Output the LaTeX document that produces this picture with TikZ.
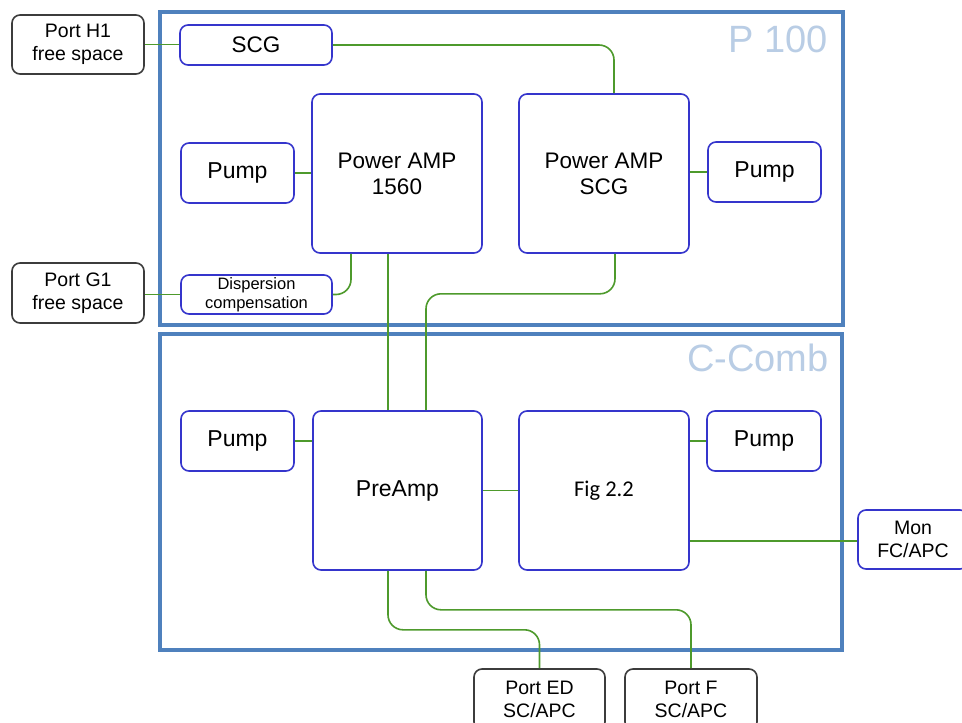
\documentclass[tikz,border=0pt]{standalone}
\usepackage{fontspec}
\setmainfont{Liberation Sans}
\newfontfamily\calibri{Carlito}
\definecolor{frameblue}{HTML}{4F81BD}
\definecolor{labelblue}{HTML}{B9CDE5}
\definecolor{boxblue}{HTML}{3535CC}
\definecolor{wire}{HTML}{4E9A2C}
\definecolor{portgray}{HTML}{3C3C3C}
\tikzset{
  frame/.style={draw=frameblue, line width=4pt},
  blk/.style={draw=boxblue, line width=1.6pt, rounded corners=8pt, fill=white, inner sep=0pt, align=center},
  portbox/.style={draw=portgray, line width=1.6pt, rounded corners=8pt, fill=white, inner sep=0pt, align=center},
  conn/.style={draw=wire, line width=1.6pt, rounded corners=15pt},
  biglabel/.style={text=labelblue, inner sep=0pt, font=\fontsize{38}{40}\selectfont}
}
\begin{document}
\begin{tikzpicture}[x=1pt,y=-1pt]
\clip (0,0) rectangle (962,723);
\fill[white] (0,0) rectangle (962,723);
% frames
\draw[frame] (160,12) rectangle (843,325);
\draw[frame] (160,334) rectangle (842,650);
\node[biglabel, anchor=base east] (lp) at (828,52) {P 100};
\node[biglabel, anchor=base east] (lc) at (829,371) {C-Comb};
% nodes
\node[portbox, minimum width=132pt, minimum height=59pt, font=\fontsize{19.5}{23}\selectfont] (porth1) at (78,44.5) {Port H1\\free space};
\node[blk, minimum width=152pt, minimum height=40pt, font=\fontsize{22.5}{26}\selectfont] (scg) at (256,45) {SCG};
\node[blk, minimum width=113pt, minimum height=60pt, font=\fontsize{23}{26}\selectfont] (pump1) at (237.5,173) {Pump};
\node[blk, minimum width=170pt, minimum height=159pt, font=\fontsize{22.5}{26}\selectfont] (pa1560) at (397,173.5) {Power AMP\\1560};
\node[blk, minimum width=151pt, minimum height=39pt, font=\fontsize{16.5}{18.5}\selectfont] (disp) at (256.5,294.5) {Dispersion\\compensation};
\node[portbox, minimum width=132pt, minimum height=60pt, font=\fontsize{19.5}{23}\selectfont] (portg1) at (78,293) {Port G1\\free space};
\node[blk, minimum width=170pt, minimum height=159pt, font=\fontsize{22.5}{26}\selectfont] (pascg) at (604,173.5) {Power AMP\\SCG};
\node[blk, minimum width=113pt, minimum height=60pt, font=\fontsize{23}{26}\selectfont] (pump2) at (764.5,172) {Pump};
\node[blk, minimum width=113pt, minimum height=60pt, font=\fontsize{23}{26}\selectfont] (pump3) at (237.5,441) {Pump};
\node[blk, minimum width=169pt, minimum height=159pt, font=\fontsize{23}{26}\selectfont] (preamp) at (397.5,490.5) {PreAmp};
\node[blk, minimum width=170pt, minimum height=159pt, font=\calibri\fontsize{22.5}{26}\selectfont] (fig) at (604,490.5) {Fig 2.2};
\node[blk, minimum width=114pt, minimum height=60pt, font=\fontsize{23}{26}\selectfont] (pump4) at (764,441) {Pump};
\node[blk, minimum width=110pt, minimum height=59pt, font=\fontsize{19.5}{23}\selectfont] (mon) at (913,539.5) {Mon\\FC/APC};
\node[portbox, minimum width=131pt, minimum height=61pt, font=\fontsize{19.5}{23}\selectfont] (ported) at (539.5,699.5) {Port ED\\SC/APC};
\node[portbox, minimum width=132pt, minimum height=61pt, font=\fontsize{19.5}{23}\selectfont] (portf) at (691,699.5) {Port F\\SC/APC};
% connectors
\draw[conn] (porth1.east) -- (porth1.east -| scg.west);
\draw[conn] (scg.east) -| ([xshift=10pt]pascg.north);
\draw[conn] (pump1.east) -- (pump1.east -| pa1560.west);
\draw[conn] (pascg.east |- pump2.west) -- (pump2.west);
\draw[conn] (disp.west) -- (disp.west -| portg1.east);
\draw[conn] (disp.east) -| ([xshift=-46pt]pa1560.south);
\draw[conn] ([xshift=-9pt]pa1560.south) -- ([xshift=-9pt]pa1560.south |- preamp.north);
\draw[conn] ([xshift=11pt]pascg.south) -- ++(0,40) -| ([xshift=28.5pt]preamp.north);
\draw[conn] (pump3.east) -- (pump3.east -| preamp.west);
\draw[conn] (preamp.east) -- (fig.west);
\draw[conn] (fig.east |- pump4.west) -- (pump4.west);
\draw[conn] (fig.east |- 0,541) -- (mon.west |- 0,541);
\draw[conn] ([xshift=-9.5pt]preamp.south) -- ++(0,59) -| (ported.north);
\draw[conn] ([xshift=28.5pt]preamp.south) -- ++(0,39) -| (portf.north);
\end{tikzpicture}
\end{document}
